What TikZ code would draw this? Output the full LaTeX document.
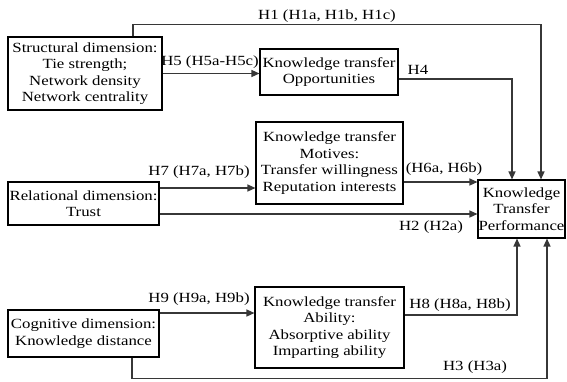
\documentclass[tikz,border=0pt]{standalone}
\usepackage{fontspec}
\setmainfont{Liberation Serif}[FakeStretch=1.2]
\usetikzlibrary{arrows.meta}
\definecolor{linec}{RGB}{55,55,55}
\tikzset{
  box/.style={draw=black, line width=1.1pt, inner sep=0pt, align=center,
    font=\fontsize{14}{16.5}\selectfont},
  lab/.style={inner sep=0pt, font=\fontsize{14}{16.5}\selectfont},
  conn/.style={draw=linec, line width=1.3pt, -{Triangle[length=8pt,width=7pt]}},
}
\begin{document}
\begin{tikzpicture}[x=1pt,y=-1pt]
\useasboundingbox (0,0) rectangle (567,381);
% boxes
\node[box, minimum width=154pt, minimum height=73pt] (S) at (85,73.5)
  {Structural dimension:\\Tie strength;\\Network density\\Network centrality};
\node[box, minimum width=138pt, minimum height=46pt] (O) at (329,72)
  {Knowledge transfer\\Opportunities};
\node[box, minimum width=147pt, minimum height=82pt] (M) at (329.5,163)
  {Knowledge transfer\\Motives:\\Transfer willingness\\Reputation interests};
\node[box, minimum width=151pt, minimum height=43pt] (R) at (83.5,203.5)
  {Relational dimension:\\Trust};
\node[box, minimum width=87pt, minimum height=58pt] (P) at (521.5,209)
  {Knowledge\\Transfer\\Performance};
\node[box, minimum width=151pt, minimum height=47pt] (C) at (83.5,333.5)
  {Cognitive dimension:\\Knowledge distance};
\node[box, minimum width=149pt, minimum height=81pt] (A) at (329.5,327.5)
  {Knowledge transfer\\Ability:\\Absorptive ability\\Imparting ability};
% connectors
\draw[conn] ([xshift=48pt]S.north) -- ++(0,-12) -| ([xshift=19.5pt]P.north);
\draw[conn] (S.east) -- (S.east -| O.west);
\draw[conn] ([yshift=-7pt]O.east) -| ([xshift=-9.5pt]P.north);
\draw[conn] ([yshift=15.5pt]R.east) -- ([yshift=15.5pt]R.east -| M.west);
\draw[conn] ([yshift=-10.5pt]R.east) -- ([yshift=-10.5pt]R.east -| P.west);
\draw[conn] ([yshift=-19pt]M.east) -- ([yshift=-19pt]M.east -| P.west);
\draw[conn] ([yshift=20.5pt]C.east) -- ([yshift=20.5pt]C.east -| A.west);
\draw[conn] ([yshift=12.5pt]A.east) -| ([xshift=-4.5pt]P.south);
\draw[conn] ([xshift=48.5pt]C.south) -- ++(0,21) -| ([xshift=25.5pt]P.south);
% labels
\node[lab] (l1) at (327,16) {H1 (H1a, H1b, H1c)};
\node[lab] (l5) at (210,62) {H5 (H5a-H5c)};
\node[lab] (l4) at (418,70) {H4};
\node[lab] (l7) at (199,172) {H7 (H7a, H7b)};
\node[lab] (l6) at (444,169) {(H6a, H6b)};
\node[lab] (l2) at (431,227) {H2 (H2a)};
\node[lab] (l9) at (199,299) {H9 (H9a, H9b)};
\node[lab] (l8) at (460,305) {H8 (H8a, H8b)};
\node[lab] (l3) at (475,367) {H3 (H3a)};
\end{tikzpicture}
\end{document}
